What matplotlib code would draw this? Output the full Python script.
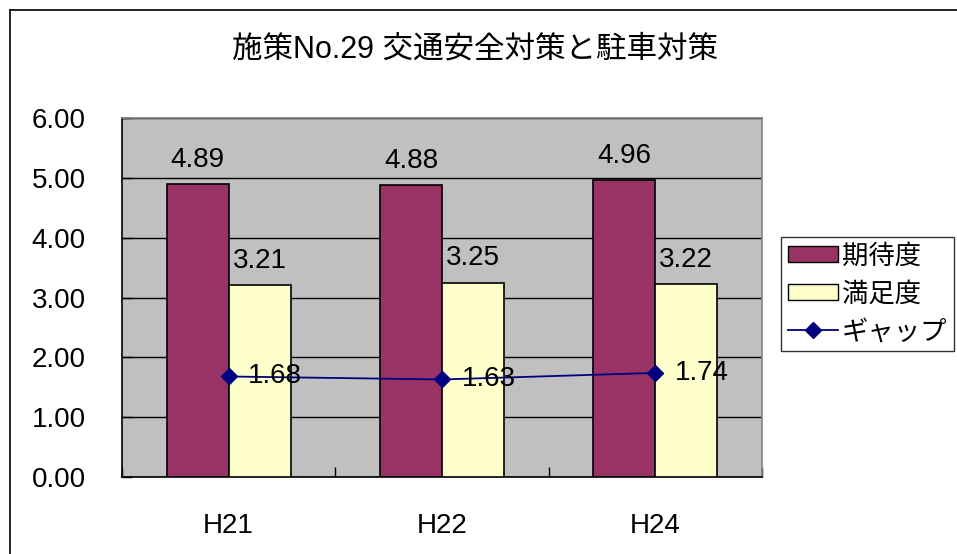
import numpy as np
import matplotlib.pyplot as plt
from matplotlib.lines import Line2D

plt.rcParams['font.family'] = ['Liberation Sans', 'Noto Sans CJK JP']

categories = ['H21', 'H22', 'H24']
expectation = [4.89, 4.88, 4.96]   # 期待度
satisfaction = [3.21, 3.25, 3.22]  # 満足度
gap = [1.68, 1.63, 1.74]           # ギャップ
yticks = [0, 1, 2, 3, 4, 5, 6]
title = '施策No.29 交通安全対策と駐車対策'

W, H = 957, 554
fig = plt.figure(figsize=(W / 100, H / 100), dpi=100)
ax = fig.add_axes([122 / W, 1 - 477 / H, 640 / W, 359 / H])
ax.set_facecolor('#C0C0C0')

x = np.arange(len(categories))
bw = 0.29
ax.bar(x - bw / 2, expectation, bw, color='#993366', edgecolor='black', linewidth=1.2, zorder=3, label='期待度')
ax.bar(x + bw / 2, satisfaction, bw, color='#FFFFCC', edgecolor='black', linewidth=1.2, zorder=3, label='満足度')
ax.plot(x, gap, color='#000080', marker='D', markersize=8, linewidth=1.3, zorder=4, label='ギャップ')

fs = 20
for i in range(len(x)):
    ax.annotate(f'{expectation[i]:.2f}', (x[i] - bw / 2, expectation[i]), xytext=(0, 8),
                textcoords='offset points', ha='center', va='bottom', fontsize=fs, zorder=5)
    ax.annotate(f'{satisfaction[i]:.2f}', (x[i] + bw / 2, satisfaction[i]), xytext=(0, 8),
                textcoords='offset points', ha='center', va='bottom', fontsize=fs, zorder=5)
    ax.annotate(f'{gap[i]:.2f}', (x[i], gap[i]), xytext=(14, 0),
                textcoords='offset points', ha='left', va='center', fontsize=fs, zorder=5)

ax.set_xlim(-0.5, len(categories) - 0.5)
ax.set_ylim(0, 6)
ax.set_yticks(yticks)
ax.set_yticklabels([f'{v:.2f}' for v in yticks], fontsize=fs)
ax.set_xticks(x)
ax.set_xticklabels(categories, fontsize=fs)
ax.set_xticks(np.arange(len(categories) + 1) - 0.5, minor=True)
ax.tick_params(axis='x', which='major', length=0, pad=26)
ax.tick_params(axis='x', which='minor', direction='in', length=7, width=1)
ax.tick_params(axis='y', direction='in', length=7, width=1, pad=26)
ax.grid(axis='y', color='black', linewidth=1, zorder=1)
ax.set_axisbelow(True)

for side in ['top', 'right']:
    ax.spines[side].set_color('#808080')
for side in ['left', 'bottom']:
    ax.spines[side].set_color('black')
for s in ax.spines.values():
    s.set_linewidth(1.2)

fig.text(475 / W, 1 - 50 / H, title, ha='center', va='center', fontsize=22)

handles = [
    plt.Rectangle((0, 0), 1, 1, facecolor='#993366', edgecolor='black'),
    plt.Rectangle((0, 0), 1, 1, facecolor='#FFFFCC', edgecolor='black'),
    Line2D([], [], color='#000080', marker='D', markersize=8, linewidth=1.3),
]
leg = fig.legend(handles, ['期待度', '満足度', 'ギャップ'], loc='upper left',
                 bbox_to_anchor=(781 / W, 1 - 237 / H), fontsize=19, frameon=True,
                 fancybox=False, edgecolor='black', handlelength=1.9, handleheight=0.6,
                 handletextpad=0.15, labelspacing=0.5, borderpad=0.25, borderaxespad=0)
leg.get_frame().set_linewidth(1)

# outer chart frame
fig.add_artist(Line2D([10 / W, 10 / W], [0, 1 - 10 / H], color='black', linewidth=1.2))
fig.add_artist(Line2D([10 / W, 1], [1 - 10 / H, 1 - 10 / H], color='black', linewidth=1.2))

fig.savefig('out.png', dpi=100)
